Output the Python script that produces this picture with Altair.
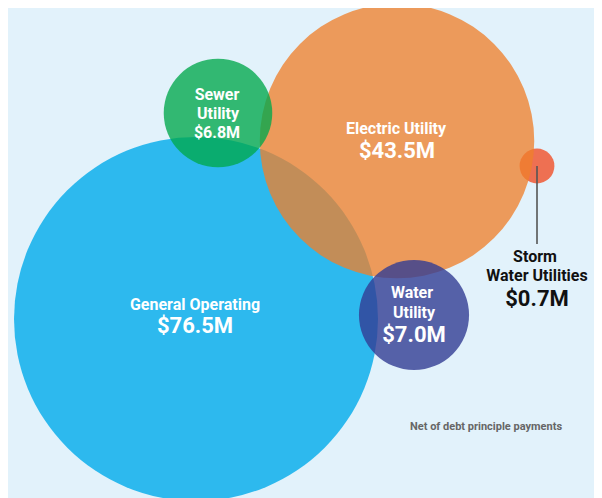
import altair as alt
import pandas as pd

# ---- data ----
funds = ["General Operating", "Storm Water Utilities", "Electric Utility", "Sewer Utility", "Water Utility"]
debt_musd = [76.5, 0.7, 43.5, 6.8, 7.0]
# bubble layout (reference pixel coordinates of each bubble centre)
cx = [196, 537, 397, 218, 414]
cy = [319, 166, 141, 113, 315]

label_text = ["General Operating", "$76.5M", "Electric Utility", "$43.5M",
              "Sewer", "Utility", "$6.8M", "Water", "Utility", "$7.0M",
              "Storm", "Water Utilities", "$0.7M", "Net of debt principle payments"]
label_x = [195, 195, 396, 397, 217, 218, 217, 412, 414, 414, 535, 537, 537, 486]
label_y = [310, 333, 134, 158, 100, 119, 138, 298, 318, 342, 262, 281, 306, 430]
label_kind = ["name", "value", "name", "value", "small", "small", "small",
              "small", "small", "value", "dark", "dark", "darkvalue", "note"]

# ---- styles ----
fill_colors = ["#2DB9EE", "#EE7052", "#EF802B", "#00A84B", "#323C93"]
fill_alpha = [1.0, 1.0, 0.77, 0.78, 0.8]
FONT = "Roboto"

W, H = 586, 490
xs = alt.Scale(domain=[8, 8 + W], range=[0, W])
ys = alt.Scale(domain=[8, 8 + H], range=[0, H])

bubbles = pd.DataFrame({
    "fund": funds, "debt": debt_musd, "cx": cx, "cy": cy,
    "alpha": fill_alpha, "z": list(range(len(funds)))})

r_max = 182.0
# Vega symbol size is the area of the circle's bounding square: (2r)^2
circles = alt.Chart(bubbles).mark_circle(strokeWidth=0).encode(
    x=alt.X("cx:Q", scale=xs, axis=None),
    y=alt.Y("cy:Q", scale=ys, axis=None),
    size=alt.Size("debt:Q", scale=alt.Scale(domain=[0, 76.5], range=[0, (2 * r_max) ** 2]), legend=None),
    color=alt.Color("fund:N", scale=alt.Scale(domain=funds, range=fill_colors), legend=None),
    opacity=alt.Opacity("alpha:Q", scale=None),
    order=alt.Order("z:Q"),
)

leader = alt.Chart(pd.DataFrame({"x": [cx[1]], "y": [cy[1]], "y2": [244]})).mark_rule(
    color="#555555", strokeWidth=1.6).encode(
    x=alt.X("x:Q", scale=xs, axis=None),
    y=alt.Y("y:Q", scale=ys, axis=None),
    y2="y2:Q",
)

labels = pd.DataFrame({"t": label_text, "x": label_x, "y": label_y, "k": label_kind})

def text_layer(kind, size, color):
    return alt.Chart(labels).transform_filter(alt.datum.k == kind).mark_text(
        font=FONT, fontWeight="bold", fontSize=size, color=color,
        align="center", baseline="alphabetic").encode(
        x=alt.X("x:Q", scale=xs, axis=None),
        y=alt.Y("y:Q", scale=ys, axis=None),
        text="t:N",
    )

chart = alt.layer(
    circles,
    leader,
    text_layer("name", 16, "white"),
    text_layer("value", 22, "white"),
    text_layer("small", 16, "white"),
    text_layer("dark", 16, "#111111"),
    text_layer("darkvalue", 22, "#111111"),
    text_layer("note", 11, "#666666"),
).properties(
    width=W, height=H, background="#E2F2FB", padding=0,
    autosize=alt.AutoSizeParams(type="none"),
).configure_view(stroke=None)

chart.save("out.html", embed_options={"renderer": "svg", "actions": False})
